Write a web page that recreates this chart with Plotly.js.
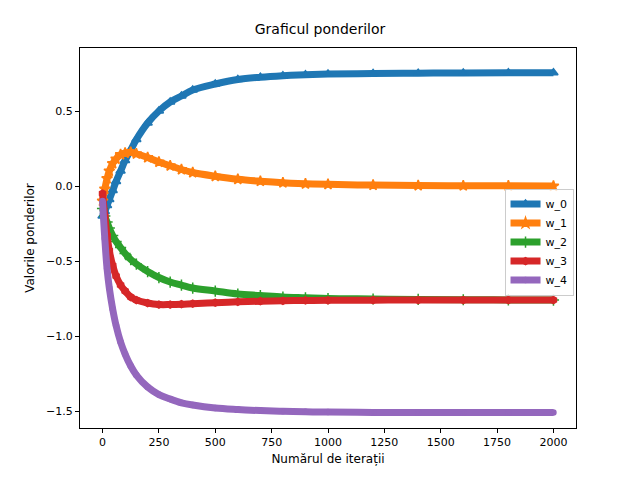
<!DOCTYPE html>
<html>
<head>
<script src="https://cdn.plot.ly/plotly-3.0.1.min.js"></script>
<style>body{margin:0}</style>
</head>
<body>
<div id="chart" style="width:640px;height:480px"></div>
<script>
// iterations
const iters = [0, 10, 20, 30, 45, 60, 80, 100, 125, 150, 200, 250, 300, 350, 400, 500, 600, 700, 800, 900, 1000, 1200, 1400, 1600, 1800, 2000];
const w0 = [-0.2, -0.17, -0.13, -0.09, -0.03, 0.03, 0.1, 0.17, 0.24, 0.31, 0.42, 0.5, 0.56, 0.6, 0.64, 0.68, 0.71, 0.725, 0.735, 0.742, 0.746, 0.75, 0.752, 0.754, 0.755, 0.755];
const w1 = [-0.1, -0.02, 0.05, 0.1, 0.15, 0.18, 0.21, 0.22, 0.225, 0.215, 0.19, 0.16, 0.135, 0.11, 0.09, 0.065, 0.045, 0.032, 0.022, 0.015, 0.011, 0.006, 0.003, 0.002, 0.001, 0.0];
const w2 = [-0.15, -0.2, -0.24, -0.28, -0.33, -0.37, -0.41, -0.45, -0.49, -0.52, -0.57, -0.61, -0.64, -0.66, -0.68, -0.7, -0.72, -0.73, -0.74, -0.745, -0.75, -0.753, -0.756, -0.758, -0.759, -0.76];
const w3 = [-0.05, -0.2, -0.33, -0.43, -0.53, -0.6, -0.66, -0.7, -0.74, -0.76, -0.78, -0.79, -0.79, -0.788, -0.784, -0.778, -0.772, -0.768, -0.765, -0.763, -0.762, -0.761, -0.76, -0.76, -0.76, -0.76];
const w4 = [-0.1, -0.35, -0.55, -0.68, -0.82, -0.93, -1.04, -1.12, -1.2, -1.26, -1.34, -1.39, -1.42, -1.445, -1.46, -1.48, -1.49, -1.497, -1.502, -1.505, -1.507, -1.509, -1.51, -1.51, -1.51, -1.51];

const names = ["w_0", "w_1", "w_2", "w_3", "w_4"];
const series = [w0, w1, w2, w3, w4];
const colors = ["#1f77b4", "#ff7f0e", "#2ca02c", "#d62728", "#9467bd"];
const symbols = ["triangle-up", "star", "cross-thin-open", "hexagon", "circle"];
const sizes = [8, 8, 8, 7, 5];

const traces = series.map((ys, i) => ({
  x: iters, y: ys, name: names[i], type: "scatter", mode: "lines+markers",
  line: {color: colors[i], width: 7, shape: "spline"},
  marker: {symbol: symbols[i], size: sizes[i], color: colors[i], line: {color: colors[i], width: 1.5}}
}));

const axis = {
  showgrid: false, zeroline: false, showline: true, mirror: true, linecolor: "#000",
  ticks: "outside", ticklen: 4, tickcolor: "#000", tickfont: {size: 11, color: "#000"}
};

Plotly.newPlot("chart", traces, {
  width: 640, height: 480,
  margin: {l: 80, r: 64, t: 48, b: 52},
  paper_bgcolor: "#fff", plot_bgcolor: "#fff",
  font: {family: "DejaVu Sans", color: "#000"},
  title: {text: "Graficul ponderilor", font: {size: 14}, x: 0.5, y: 0.93, yanchor: "bottom"},
  xaxis: Object.assign({}, axis, {range: [-100, 2100], tickvals: [0, 250, 500, 750, 1000, 1250, 1500, 1750, 2000],
    title: {text: "Numărul de iterații", font: {size: 12}, standoff: 6}}),
  yaxis: Object.assign({}, axis, {range: [-1.613, 0.92], tickvals: [-1.5, -1.0, -0.5, 0, 0.5],
    ticktext: ["−1.5", "−1.0", "−0.5", "0.0", "0.5"],
    title: {text: "Valorile ponderilor", font: {size: 12}, standoff: 8}}),
  legend: {x: 0.995, y: 0.63, xanchor: "right", yanchor: "top", bgcolor: "rgba(255,255,255,0.8)",
    bordercolor: "#ccc", borderwidth: 1, font: {size: 11}, tracegroupgap: 0}
}, {displayModeBar: false});
</script>
</body>
</html>
